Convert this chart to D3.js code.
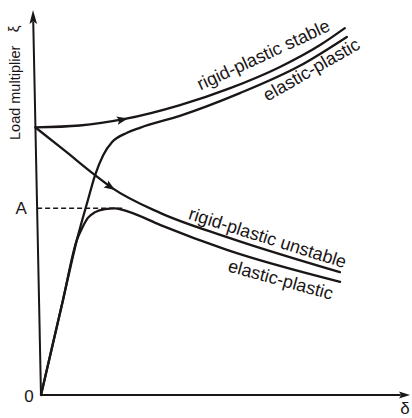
<!DOCTYPE html>
<html>
<head>
<meta charset="utf-8">
<script src="https://cdn.jsdelivr.net/npm/d3@7"></script>
<style>
  html, body { margin: 0; padding: 0; background: #fff; }
  svg { display: block; }
  text { font-family: "Liberation Sans", Arial, Helvetica, sans-serif; fill: #1a1616; }
</style>
</head>
<body>
<svg id="chart" width="412" height="418"></svg>
<script>
// Load multiplier (ξ) versus displacement (δ) — rigid-plastic and elastic-plastic responses
const loadA = 4.85;                       // peak load of the unstable elastic-plastic path
const axisTicks = ["0", "A"];
const axisTitles = { x: "δ", y: "Load multiplier", ySymbol: "ξ" };

const rigidStable = [[0, 6.95], [1.2, 7.0], [2.43, 7.17], [3.93, 7.53], [5.3, 7.97], [6.66, 8.52], [7.76, 9.09], [8.44, 9.53]];
const elasticStable = [[0, 0], [0.65, 2.47], [1.06, 4.03], [1.38, 5.06], [1.59, 5.71], [1.82, 6.23], [2.07, 6.57], [2.48, 6.81], [2.83, 6.94], [3.92, 7.25], [5.56, 7.84], [7.2, 8.55], [8.49, 9.30]];
const rigidUnstable = [[0, 6.95], [0.79, 6.34], [1.59, 5.71], [2.04, 5.38], [3.33, 4.73], [5.13, 4.10], [8.17, 3.19]];
const elasticUnstable = [[0, 0], [0.65, 2.47], [1.06, 4.03], [1.21, 4.34], [1.37, 4.6], [1.57, 4.75], [1.84, 4.83], [2.11, 4.85], [2.51, 4.75], [3.32, 4.42], [5.12, 3.77], [8.17, 2.94]];
const curveNames = ["rigid-plastic stable", "elastic-plastic", "rigid-plastic unstable", "elastic-plastic"];

const svg = d3.select("#chart");
const ink = "#1a1616";

const sx = d3.scaleLinear().domain([0, 10]).range([41, 410]);
const sy = d3.scaleLinear().domain([0, 10]).range([395, 10]);
// the ordinate leans slightly to the left as it rises
const lean = 8 / 385;
const px = d => sx(d[0]) - lean * (sy(0) - sy(d[1]));
const py = d => sy(d[1]);

const line = d3.line().x(px).y(py).curve(d3.curveMonotoneX);

// axes
const g = svg.append("g");
g.append("line")
  .attr("x1", px([0, 0])).attr("y1", py([0, 0]))
  .attr("x2", px([0, 9.7])).attr("y2", py([0, 9.7]))
  .attr("stroke", ink).attr("stroke-width", 2);
g.append("line")
  .attr("x1", px([0, 0])).attr("y1", py([0, 0]))
  .attr("x2", px([9.75, 0])).attr("y2", py([9.75, 0]))
  .attr("stroke", ink).attr("stroke-width", 2);

function arrowHead(x, y, angleDeg, len, half) {
  g.append("path")
    .attr("d", `M0,0 L${-len},${-half} L${-len * 0.8},0 L${-len},${half} Z`)
    .attr("transform", `translate(${x},${y}) rotate(${angleDeg})`)
    .attr("fill", ink);
}
{
  const top = [px([0, 10]), py([0, 10])];
  const below = [px([0, 9]), py([0, 9])];
  arrowHead(top[0], top[1], Math.atan2(top[1] - below[1], top[0] - below[0]) * 180 / Math.PI, 14, 3.8);
  arrowHead(px([10, 0]), py([10, 0]), 0, 11, 3.6);
}

// dashed guide at the peak load A
g.append("line")
  .attr("x1", px([0, loadA])).attr("y1", py([0, loadA]))
  .attr("x2", px([2.38, loadA])).attr("y2", py([2.38, loadA]))
  .attr("stroke", ink).attr("stroke-width", 1.5)
  .attr("stroke-dasharray", "5,3");

// curves
const series = [rigidStable, elasticStable, rigidUnstable, elasticUnstable];
const paths = series.map(s => g.append("path")
  .attr("d", line(s))
  .attr("fill", "none")
  .attr("stroke", ink)
  .attr("stroke-width", 2.3)
  .attr("stroke-linecap", "round")
  .node());

// point on a path at a given screen x, with its tangent angle
function pointAtX(node, targetX) {
  const total = node.getTotalLength();
  let lo = 0, hi = total;
  for (let i = 0; i < 40; i++) {
    const mid = (lo + hi) / 2;
    if (node.getPointAtLength(mid).x < targetX) lo = mid; else hi = mid;
  }
  const L = (lo + hi) / 2;
  const p = node.getPointAtLength(L);
  const a = node.getPointAtLength(Math.max(0, L - 2));
  const b = node.getPointAtLength(Math.min(total, L + 2));
  return { x: p.x, y: p.y, angle: Math.atan2(b.y - a.y, b.x - a.x) * 180 / Math.PI };
}

// direction arrows on the rigid-plastic paths
[[0, 2.51, 7.2], [2, 2.12, 5.25]].forEach(([i, d, xi]) => {
  const p = pointAtX(paths[i], px([d, xi]));
  arrowHead(p.x, p.y, p.angle, 11, 4.2);
});

// curve labels, set along the local slope
const labelPlacement = [
  { i: 0, x: 271, off: -12 },
  { i: 1, x: 307, off: 15 },
  { i: 2, x: 264, off: -6 },
  { i: 3, x: 284, off: 19 }
];
labelPlacement.forEach(l => {
  const p = pointAtX(paths[l.i], l.x);
  const r = p.angle * Math.PI / 180;
  const nx = -Math.sin(r) * l.off, ny = Math.cos(r) * l.off;
  svg.append("text")
    .attr("transform", `translate(${p.x + nx},${p.y + ny}) rotate(${p.angle})`)
    .attr("text-anchor", "middle")
    .attr("font-size", 18)
    .text(curveNames[l.i]);
});

// tick labels
svg.append("text")
  .attr("x", px([0, 0]) - 12).attr("y", py([0, 0]) + 7)
  .attr("text-anchor", "middle").attr("font-size", 17)
  .text(axisTicks[0]);
svg.append("text")
  .attr("x", px([0, loadA]) - 16).attr("y", py([0, loadA]) + 6)
  .attr("text-anchor", "middle").attr("font-size", 17)
  .text(axisTicks[1]);

// axis titles
svg.append("text")
  .attr("x", sx(10) - 5).attr("y", 414)
  .attr("text-anchor", "middle").attr("font-size", 17)
  .text(axisTitles.x);
svg.append("text")
  .attr("transform", "translate(20,140) rotate(-90)")
  .attr("text-anchor", "start").attr("font-size", 14.5)
  .text(axisTitles.y);
svg.append("text")
  .attr("transform", "translate(19,29) rotate(-90)")
  .attr("text-anchor", "middle").attr("font-size", 15)
  .text(axisTitles.ySymbol);
</script>
</body>
</html>
